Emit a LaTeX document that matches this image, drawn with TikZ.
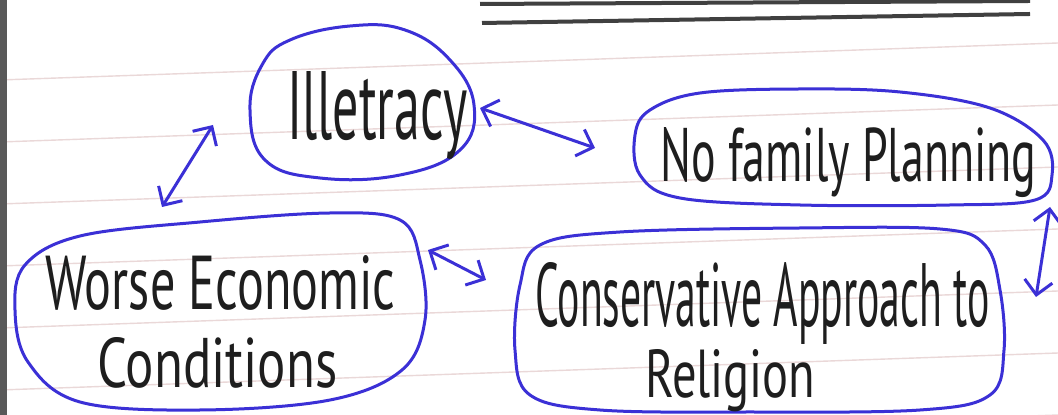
\documentclass[tikz,border=0pt]{standalone}
\usepackage{fontspec}
\setmainfont{PT Sans}
\usetikzlibrary{arrows.meta}
\definecolor{ink}{HTML}{3B30D6}
\definecolor{pen}{HTML}{1E1E1E}
\definecolor{ruleline}{HTML}{EAD8D8}
\tikzset{
  blob/.style={draw=ink, line width=1.5pt, line join=round},
  conn/.style={ink, line width=1.5pt, line cap=round,
    {Straight Barb[length=7pt,width=14pt,line width=1.5pt]}-{Straight Barb[length=7pt,width=14pt,line width=1.5pt]}},
  hand/.style={anchor=base west, inner sep=0pt, text=pen}
}
\begin{document}
\begin{tikzpicture}[x=0.5pt,y=-0.5pt]
\fill[white] (0,0) rectangle (1058,415);
\useasboundingbox (0,0) rectangle (1058,415);
% faint ruled lines of the paper
\foreach \yy in {80,142,204,266,328,390,452}
  \draw[ruleline, line width=0.7pt] (0,\yy) -- (1058,\yy-37);
% notebook margin and top lines
\fill[black!65] (0,0) rectangle (7,415);
\draw[black!75, line width=2pt] (480,4) -- (1030,1);
\draw[black!75, line width=2pt] (482,23) -- (1030,14);
% blobs
\draw[blob] plot[smooth cycle, tension=0.7] coordinates {(290,40) (350,26) (405,30) (450,60) (474,105) (460,150) (400,175) (320,178) (265,160) (250,110) (262,65)};
\draw[blob] plot[smooth cycle, tension=0.6] coordinates {(650,110) (700,93) (800,89) (900,92) (990,108) (1043,140) (1052,175) (1035,200) (950,205) (800,205) (680,198) (640,175) (635,135)};
\draw[blob] plot[smooth cycle, tension=0.6] coordinates {(25,265) (80,236) (200,222) (330,213) (400,220) (420,260) (425,320) (402,370) (330,400) (200,410) (80,402) (28,362) (15,310)};
\draw[blob] plot[smooth cycle, tension=0.6] coordinates {(540,245) (620,232) (800,228) (940,229) (985,245) (1000,290) (1004,350) (990,395) (920,410) (750,412) (600,410) (530,395) (515,350) (520,285)};
% texts
\node[hand] (ill) at (287,140) {\resizebox{90pt}{34pt}{Illetracy}};
\node[hand] (nfp) at (660,182) {\resizebox{188pt}{27pt}{No family Planning}};
\node[hand] (wec1) at (45,310) {\resizebox{175pt}{27pt}{Worse Economic}};
\node[hand] (wec2) at (97,388) {\resizebox{120pt}{25pt}{Conditions}};
\node[hand] (car1) at (535,327) {\resizebox{227pt}{32pt}{Conservative Approach to}};
\node[hand] (car2) at (645,398) {\resizebox{85pt}{24pt}{Religion}};
% connector ends
\coordinate (ill-sw) at (213,125);
\coordinate (wec-n) at (162,207);
\coordinate (ill-e) at (480,108);
\coordinate (nfp-w) at (595,148);
\coordinate (wec-e) at (428,250);
\coordinate (car-w) at (486,280);
\coordinate (nfp-s) at (1050,207);
\coordinate (car-e) at (1036,297);
% connectors
\draw[conn] (ill-sw) -- (wec-n);
\draw[conn] (ill-e) -- (nfp-w);
\draw[conn] (wec-e) -- (car-w);
\draw[conn] (nfp-s) -- (car-e);
\end{tikzpicture}
\end{document}
